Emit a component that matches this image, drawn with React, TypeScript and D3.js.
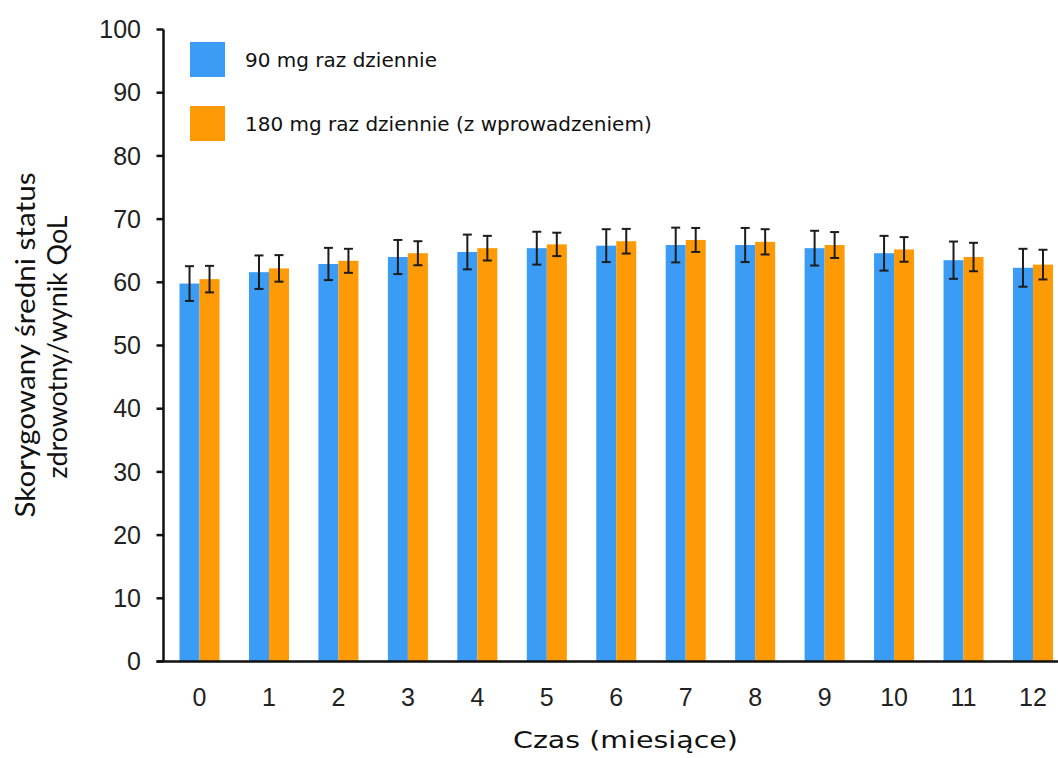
import React from "react";
import * as d3 from "d3";

const months = ["0", "1", "2", "3", "4", "5", "6", "7", "8", "9", "10", "11", "12"];
const seriesNames = ["90 mg raz dziennie", "180 mg raz dziennie (z wprowadzeniem)"];
const blueValues = [59.8, 61.6, 62.9, 64.0, 64.8, 65.4, 65.8, 65.9, 65.9, 65.4, 64.6, 63.5, 62.3];
const orangeValues = [60.5, 62.2, 63.4, 64.6, 65.4, 66.0, 66.5, 66.7, 66.4, 65.9, 65.2, 64.0, 62.8];
const blueErrors = [2.75, 2.65, 2.55, 2.7, 2.75, 2.6, 2.6, 2.75, 2.7, 2.75, 2.75, 2.95, 3.0];
const orangeErrors = [2.1, 2.1, 1.9, 1.9, 1.95, 1.85, 1.95, 1.9, 2.0, 2.05, 1.95, 2.25, 2.35];
const yTicks = [0, 10, 20, 30, 40, 50, 60, 70, 80, 90, 100];
const xTitle = "Czas (miesiące)";
const yTitle = ["Skorygowany średni status", "zdrowotny/wynik QoL"];

const colors = ["#3b9cf6", "#fd9a06"];

export default function App() {
  const W = 1058;
  const H = 758;
  const axisX = 163.5;
  const y = d3.scaleLinear().domain([0, 100]).range([661.5, 29.5]);
  const x = d3
    .scaleBand<string>()
    .domain(months)
    .range([164.8, 1067.7])
    .paddingInner(0.424)
    .paddingOuter(0.212);
  const sub = d3.scaleBand<number>().domain([0, 1]).range([0, x.bandwidth()]).padding(0);
  const values = [blueValues, orangeValues];
  const errors = [blueErrors, orangeErrors];
  const capHalf = 4.5;

  return (
    <svg
      width={W}
      height={H}
      style={{ position: "absolute", left: 0, top: 0, background: "#fff" }}
    >
      {/* bars */}
      {months.map((m, i) =>
        values.map((vals, s) => (
          <rect
            key={`b-${m}-${s}`}
            x={(x(m) as number) + (sub(s) as number)}
            y={y(vals[i])}
            width={sub.bandwidth()}
            height={y(0) - y(vals[i])}
            fill={colors[s]}
          />
        ))
      )}
      {/* error bars */}
      {months.map((m, i) =>
        values.map((vals, s) => {
          const cx = (x(m) as number) + (sub(s) as number) + sub.bandwidth() / 2;
          const top = y(vals[i] + errors[s][i]);
          const bot = y(vals[i] - errors[s][i]);
          return (
            <g key={`e-${m}-${s}`} stroke="#1c1c1c" strokeWidth={2}>
              <line x1={cx} x2={cx} y1={top} y2={bot} />
              <line x1={cx - capHalf} x2={cx + capHalf} y1={top} y2={top} />
              <line x1={cx - capHalf} x2={cx + capHalf} y1={bot} y2={bot} />
            </g>
          );
        })
      )}
      {/* y axis */}
      <line x1={axisX} x2={axisX} y1={y(100)} y2={y(0)} stroke="#111" strokeWidth={2.5} />
      {yTicks.map((t) => (
        <g key={`yt-${t}`}>
          <line x1={axisX - 7} x2={axisX} y1={y(t)} y2={y(t)} stroke="#111" strokeWidth={2.5} />
          <text
            x={141}
            y={y(t)}
            dy="0.35em"
            textAnchor="end"
            fontFamily="'Liberation Sans', Arial, sans-serif"
            fontSize={25}
            fill="#222"
          >
            {t}
          </text>
        </g>
      ))}
      {/* x axis */}
      <line x1={axisX - 7} x2={W} y1={y(0)} y2={y(0)} stroke="#111" strokeWidth={2.5} />
      {months.map((m) => (
        <text
          key={`xt-${m}`}
          x={(x(m) as number) + x.bandwidth() / 2}
          y={706}
          textAnchor="middle"
          fontFamily="'Liberation Sans', Arial, sans-serif"
          fontSize={25}
          fill="#222"
        >
          {m}
        </text>
      ))}
      {/* x title */}
      <text
        x={513}
        y={748}
        fontFamily="'DejaVu Sans', sans-serif"
        fontSize={23}
        textLength={225}
        lengthAdjust="spacingAndGlyphs"
        fill="#111"
      >
        {xTitle}
      </text>
      {/* y title */}
      <text
        transform={`translate(35, ${y(50) + 172}) rotate(-90)`}
        fontFamily="Lato, 'Open Sans', sans-serif"
        fontSize={26}
        textLength={345}
        lengthAdjust="spacingAndGlyphs"
        fill="#111"
      >
        {yTitle[0]}
      </text>
      <text
        transform={`translate(67, ${y(50) + 133}) rotate(-90)`}
        fontFamily="Lato, 'Open Sans', sans-serif"
        fontSize={26}
        textLength={263}
        lengthAdjust="spacingAndGlyphs"
        fill="#111"
      >
        {yTitle[1]}
      </text>
      {/* legend */}
      {seriesNames.map((name, s) => (
        <g key={`lg-${s}`} transform={`translate(190, ${42 + s * 64})`}>
          <rect x={0} y={0} width={35} height={35} fill={colors[s]} />
          <text
            x={55}
            y={25}
            fontFamily="'DejaVu Sans', sans-serif"
            fontSize={20}
            fill="#111"
          >
            {name}
          </text>
        </g>
      ))}
    </svg>
  );
}
